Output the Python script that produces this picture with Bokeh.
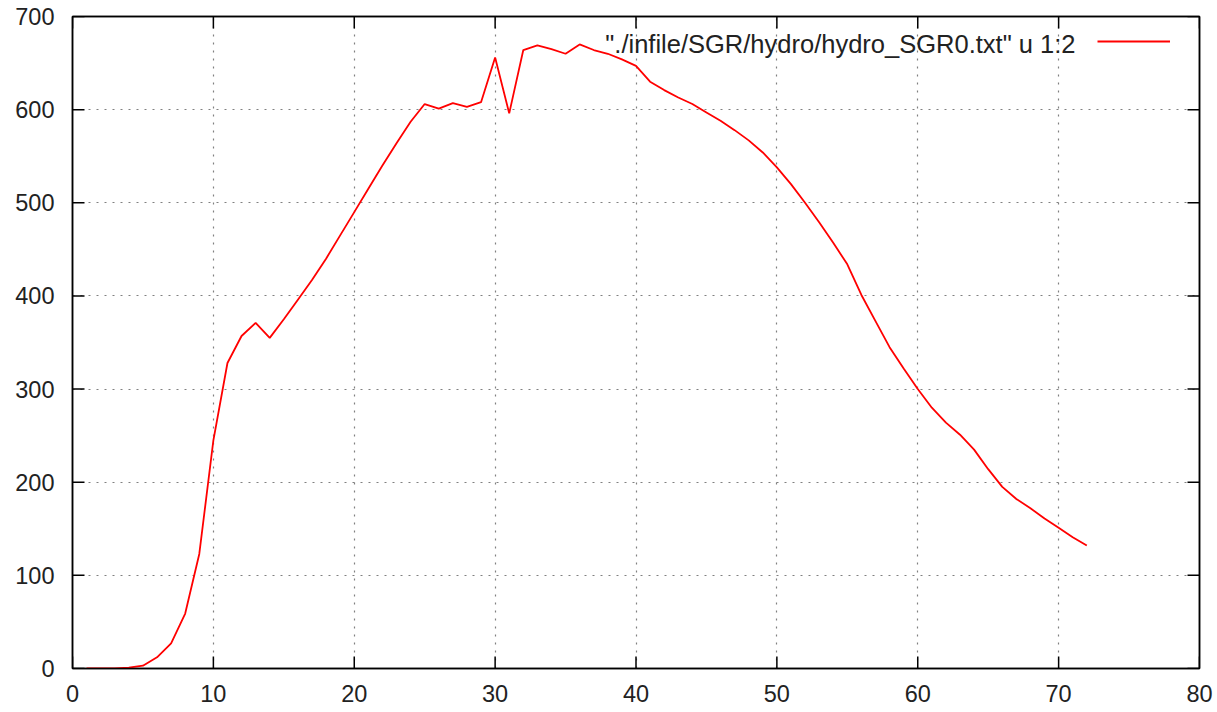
import math
from bokeh.plotting import figure
from bokeh.models import LinearAxis, Range1d, FixedTicker, CustomJSTickFormatter, Legend, LegendItem, Label
from bokeh.embed import file_html
from bokeh.resources import INLINE

x_vals = list(range(1, 73))
y_vals = [0, 0, 0, 1, 3, 12, 27, 59, 123, 245,
          328, 357, 371, 355, 375, 396, 417, 440, 465, 490,
          515, 540, 564, 587, 606, 601, 607, 603, 608, 656,
          596, 664, 669, 665, 660, 670, 664, 660, 654, 647,
          630, 621, 613, 606, 597, 588, 578, 567, 554, 538,
          520, 500, 479, 457, 434, 401, 373, 345, 322, 300,
          280, 264, 251, 235, 214, 195, 182, 172, 161, 151,
          141, 132]
x_ticks = [0, 10, 20, 30, 40, 50, 60, 70, 80]
y_ticks = [0, 100, 200, 300, 400, 500, 600, 700]
series_label = '"./infile/SGR/hydro/hydro_SGR0.txt" u 1:2'

FONT = "Liberation Sans"
X0, X1 = 0, 80
Y0, Y1 = 0, 700

p = figure(width=1214, height=712, output_backend="svg", toolbar_location=None,
           x_range=Range1d(X0, X1), y_range=Range1d(Y0, Y1),
           min_border_left=72, min_border_right=15, min_border_top=16, min_border_bottom=44)

p.outline_line_color = "black"
p.outline_line_width = 1.5
p.background_fill_color = "white"
p.border_fill_color = "white"

top = LinearAxis()
right = LinearAxis()
p.add_layout(top, "above")
p.add_layout(right, "right")

for ax in p.xaxis:
    ax.ticker = FixedTicker(ticks=x_ticks)
for ax in p.yaxis:
    ax.ticker = FixedTicker(ticks=y_ticks)

for ax in list(p.xaxis) + list(p.yaxis):
    ax.major_tick_in = 0
    ax.major_tick_out = 0
    ax.minor_tick_line_color = None
    ax.axis_line_color = "black"
    ax.axis_line_width = 1.5
    ax.major_label_text_font = FONT
    ax.major_label_text_font_size = "23.5px"
    ax.major_label_text_color = "#222222"

for ax in (top, right):
    ax.formatter = CustomJSTickFormatter(code="return ''")
    ax.major_label_standoff = 0

p.below[0].major_label_standoff = 16
p.left[0].major_label_standoff = 18

p.xgrid.ticker = FixedTicker(ticks=x_ticks)
p.ygrid.ticker = FixedTicker(ticks=y_ticks)
for g in (p.xgrid, p.ygrid):
    g.grid_line_color = "#808080"
    g.grid_line_dash = "2 6"
    g.grid_line_width = 1.2

# inward tick marks on all four sides (gnuplot style), clipped by the frame
tick_len = 24
p.scatter(x_ticks, [Y0] * len(x_ticks), marker="dash", angle=math.pi / 2, size=tick_len,
          line_color="black", line_width=1.5)
p.scatter(x_ticks, [Y1] * len(x_ticks), marker="dash", angle=math.pi / 2, size=tick_len,
          line_color="black", line_width=1.5)
p.scatter([X0] * len(y_ticks), y_ticks, marker="dash", size=tick_len,
          line_color="black", line_width=1.5)
p.scatter([X1] * len(y_ticks), y_ticks, marker="dash", size=tick_len,
          line_color="black", line_width=1.5)

r = p.line(x_vals, y_vals, line_color="#ff0000", line_width=1.8)

# gnuplot-style key: text on the left, line sample on the right
legend = Legend(items=[LegendItem(label="", renderers=[r])],
                location=(1025, 617), glyph_width=73, glyph_height=20,
                label_width=0, label_height=20, label_standoff=0,
                background_fill_alpha=0, border_line_color=None,
                margin=0, padding=0, spacing=0)
p.add_layout(legend)

key_text = Label(x=1003, y=625, x_units="screen", y_units="screen", text=series_label,
                 text_align="right", text_baseline="middle",
                 text_font=FONT, text_font_size="25.5px", text_color="#222222")
p.add_layout(key_text)

open("out.html", "w").write(file_html(p, INLINE))
